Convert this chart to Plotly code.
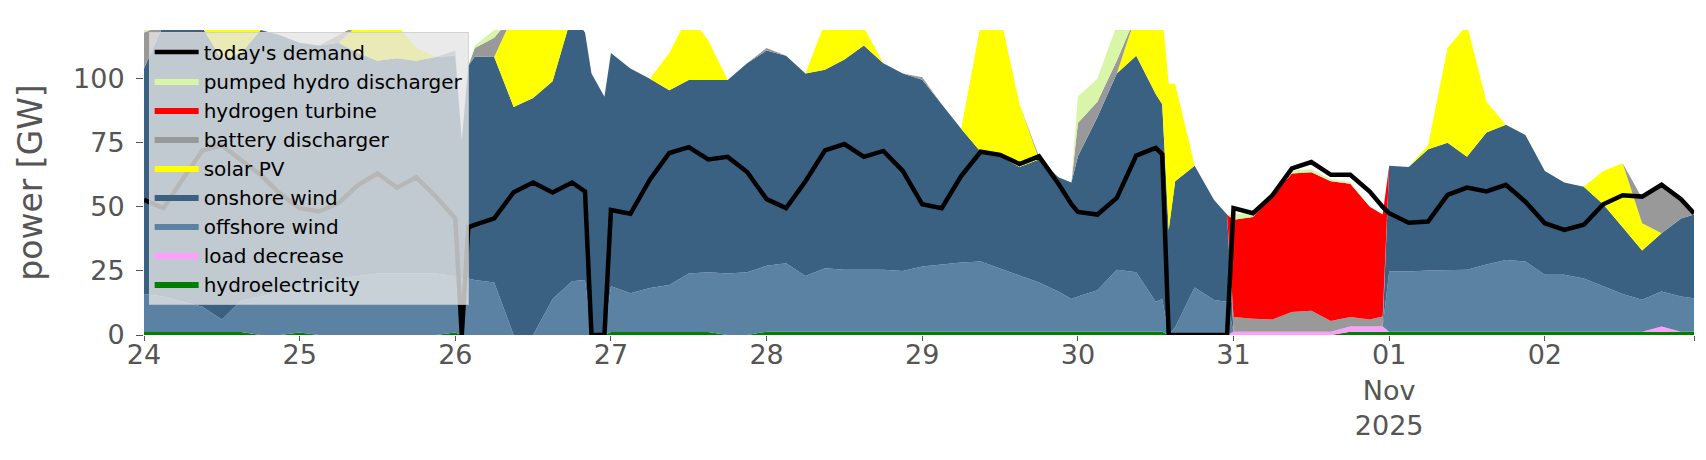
import pandas as pd
import plotly.graph_objects as go

# hours after 2025-10-24 00:00 (3-hourly, plus a few extra points at the sharp steps)
hours = [0, 3, 6, 9, 12, 15, 18, 21,
         24, 27, 30, 33, 36, 39, 42, 45,
         48, 49, 50, 51, 54, 57, 60, 63, 66, 68, 69, 71,
         72, 75, 78, 81, 84, 87, 90, 93,
         96, 99, 102, 105, 108, 111, 114, 117,
         120, 123, 126, 129, 132, 135, 138, 141, 143,
         144, 147, 150, 153, 156, 157, 158, 159, 162, 165, 167,
         168, 171, 174, 177, 180, 183, 186, 189, 191,
         192, 195, 198, 201, 204, 207, 210, 213,
         216, 219, 222, 225, 228, 231, 234, 237, 239]

# GW, stacked bottom -> top
hydroelectricity = [1.2, 1.2, 1.2, 1.2, 1.2, 1.2, 0, 0,
                    1.0, 0, 0, 0, 0, 0, 0, 0,
                    1.0, 0, 0, 0, 0, 0, 0, 0, 0, 0, 0, 0,
                    1.2, 1.2, 1.2, 1.2, 1.2, 1.2, 0, 0,
                    1.3, 1.3, 1.3, 1.3, 1.3, 1.3, 1.3, 1.3,
                    1.3, 1.3, 1.3, 1.3, 1.3, 1.3, 1.3, 1.3, 1.3,
                    1.3, 1.3, 1.3, 1.3, 1.3, 1.3, 0, 0, 0, 0, 0,
                    0, 0, 0, 0, 0, 0, 1.3, 1.3, 1.3,
                    1.3, 1.3, 1.3, 1.3, 1.3, 1.3, 1.3, 1.3,
                    1.3, 1.3, 1.3, 1.3, 1.3, 1.3, 1.3, 1.3, 1.3]
load_decrease = [0, 0, 0, 0, 0, 0, 0, 0,
                 0, 0, 0, 0, 0, 0, 0, 0,
                 0, 0, 0, 0, 0, 0, 0, 0, 0, 0, 0, 0,
                 0, 0, 0, 0, 0, 0, 0, 0,
                 0, 0, 0, 0, 0, 0, 0, 0,
                 0, 0, 0, 0, 0, 0, 0, 0, 0,
                 0, 0, 0, 0, 0, 0, 0, 0, 0, 0, 0,
                 1.3, 1.3, 1.3, 1.3, 1.3, 1.3, 2, 2, 2,
                 0, 0, 0, 0, 0, 0, 0, 0,
                 0, 0, 0, 0, 0, 0, 2, 0, 0]
offshore_wind = [14.8, 13.8, 11.8, 9.8, 4.8, 12.3, 15, 17,
                 18, 21, 22, 23, 24, 24, 24, 24,
                 22, 22, 22, 21.5, 20.5, 0, 0, 14, 21, 21.5, 0, 0,
                 17.8, 15.1, 17.1, 18.3, 22.8, 23.3, 24, 24.5,
                 25.7, 26.7, 21.7, 24.7, 24.2, 24.2, 24.2, 23.7,
                 25.4, 26.2, 27, 27.4, 24.7, 22.2, 19.2, 15.7, 12.7,
                 13.7, 16.2, 24.2, 23.2, 11.7, 12.7, 0, 3, 18.5, 13.7, 13,
                 0, 0, 0, 0, 0, 0, 0, 0, 0,
                 23.5, 23.5, 23.9, 24, 24.2, 26.2, 28, 27.4,
                 22.2, 22.2, 20.7, 17.7, 14.7, 12.5, 13.7, 13.7, 13]
onshore_wind = [88, 106, 109, 109, 101.5, 96.5, 104, 100,
                95, 92, 92, 87, 83, 84, 83, 84.5,
                86, 54, 83, 87.2, 88, 89, 92.5, 85, 104, 96.5, 102, 93,
                91, 87.7, 81.7, 76, 75.5, 75, 75.5, 81.5,
                84, 81, 79, 77.5, 82, 87.5, 80.5, 77,
                72.9, 62.5, 52.2, 42.8, 43.7, 42, 48, 44.5, 45.5,
                54.7, 67.5, 76.5, 84.5, 81, 76, 41, 57, 47.5, 39, 34,
                0, 0, 0, 0, 0, 0, 0, 0, 0,
                41.2, 40.7, 47.3, 49.7, 44, 51.5, 52.7, 49.3,
                40.5, 36, 35.8, 32, 26, 19.2, 22.7, 30.5, 32.7]
solar_pv = [0, 0, 0, 0, 17.5, 14, 0, 0,
            0, 0, 0, 11, 18, 13, 5, 0,
            0, 0, 0, 0, 0, 36, 32.5, 22, 0, 0, 0, 0,
            0, 0, 0, 14.5, 25.5, 15.5, 0, 0,
            0, 0, 0, 18.5, 17.5, 7, 0, 0,
            0, 0, 0, 49.5, 55.3, 24.5, 0, 0, 0,
            0, 0, 0, 16, 31, 35, 57, 38, 0, 0, 0,
            0, 0, 0, 0, 0, 0, 0, 0, 0,
            0, 0, 1.5, 37, 51.5, 12, 0, 0,
            0, 0, 0, 13, 25, 10.6, 0, 0, 0]
battery_discharger = [14, 0, 0, 0, 0, 0, 0, 0,
                      0, 0, 3, 0, 0, 0, 0, 0,
                      2, 0, 0, 3.3, 7.5, 0, 0, 0, 0, 0, 0, 0,
                      0, 0, 0, 0, 0, 0, 0, 0,
                      1, 0, 0, 0, 0, 0, 0, 0,
                      1, 0, 0, 0, 0, 0, 1, 0, 0,
                      13, 6, 5, 0, 0, 0, 0, 0, 0, 0, 0,
                      5.7, 5, 4.7, 7.7, 8.2, 4.2, 3.7, 2.7, 3.9,
                      0, 0, 0, 0, 0, 0, 0, 0,
                      0, 0, 0, 0, 0, 9.8, 18.9, 8, 1]
hydrogen_turbine = [0] * 64 + [38, 39.7, 48.5, 54, 54, 54.5, 52, 44, 39.8] + [0] * 17
pumped_hydro_discharger = [4, 0, 0, 0, 0, 0, 0, 0,
                           0, 0, 0, 0, 0, 0, 0, 0,
                           0, 0, 0, 1, 3, 0, 0, 0, 0, 0, 0, 0,
                           0, 0, 0, 0, 0, 0, 0, 0,
                           0, 0, 0, 0, 0, 0, 0, 0,
                           0, 0, 0, 0, 0, 0, 0, 0, 0,
                           10.4, 9, 14, 0, 0, 0, 0, 0, 0, 0, 0,
                           2, 1.8, 1.5, 1.2, 1.2, 0.8, 0.6, 0, 0,
                           0, 0, 0, 0, 0, 0, 0, 0,
                           0, 0, 0, 0, 0, 0, 0, 0, 0]
todays_demand = [52.7, 49.5, 61, 72, 74, 68.5, 62.5, 55,
                 49.5, 48.2, 51.5, 58.5, 63, 57.5, 61.5, 54,
                 45.5, 0, 42, 43, 45.5, 55.7, 59.5, 55.6, 59.5, 56, 0, 0,
                 48.8, 47.3, 60.6, 71, 73.3, 68.5, 69.5, 63.6,
                 53, 49.5, 60, 72, 74.5, 69.5, 71.8, 64,
                 51, 49.5, 62, 71.5, 70.3, 66.7, 69.7, 59, 51,
                 48, 47, 53.5, 70, 73, 70.5, 0, 0, 0, 0, 0,
                 49.5, 47.5, 54.5, 65, 67.5, 62.5, 62.5, 56, 50,
                 47.5, 43.8, 44.3, 54.7, 57.5, 56, 58.6, 52,
                 43.6, 41, 43, 51, 54.5, 54, 58.6, 53, 47.5]

day_labels = ["24", "25", "26", "27", "28", "29", "30", "31", "01<br>Nov<br>2025", "02"]

start = pd.Timestamp("2025-10-24")
time = start + pd.to_timedelta(hours, unit="h")

# stacking order bottom -> top: (name, values, colour, legend rank)
stack = [
    ("hydroelectricity", hydroelectricity, "#008000", 9),
    ("load decrease", load_decrease, "#ff9eff", 8),
    ("offshore wind", offshore_wind, "#5c82a3", 7),
    ("onshore wind", onshore_wind, "#3b6182", 6),
    ("solar PV", solar_pv, "#ffff00", 5),
    ("battery discharger", battery_discharger, "#999999", 4),
    ("hydrogen turbine", hydrogen_turbine, "#ff0000", 3),
    ("pumped hydro discharger", pumped_hydro_discharger, "#d8f5a8", 2),
]

fig = go.Figure()

for name, vals, col, rank in stack:
    fig.add_trace(go.Scatter(
        x=time, y=vals, name=name,
        mode="lines", stackgroup="one",
        line=dict(width=0, color=col),
        fillcolor=col,
        legendrank=rank,
    ))

# demand line on top of the stack
fig.add_trace(go.Scatter(
    x=time, y=todays_demand, name="today's demand",
    mode="lines", line=dict(color="black", width=4.5),
    legendrank=1,
))

tick_days = pd.date_range(start, periods=10, freq="D")
end = time[-1]

fig.update_layout(
    width=1706, height=460,
    margin=dict(l=136, r=20, t=22, b=133),
    plot_bgcolor="white",
    paper_bgcolor="white",
    font=dict(family="DejaVu Sans", color="#555555"),
    showlegend=True,
    legend=dict(
        x=0.003, y=0.995, xanchor="left", yanchor="top",
        bgcolor="rgba(229,229,229,0.8)",
        bordercolor="rgba(204,204,204,0.8)", borderwidth=1,
        font=dict(size=20, color="black", family="DejaVu Sans"),
        itemwidth=44,
        traceorder="normal",
    ),
)

fig.update_xaxes(
    range=[start, end],
    tickvals=list(tick_days) + [end],
    ticktext=day_labels + [""],
    tickfont=dict(size=27, color="#555555"),
    ticks="outside", ticklen=5, tickcolor="#555555",
    ticklabelstandoff=-9,
    showgrid=False, zeroline=False, showline=False,
)

fig.update_yaxes(
    range=[0, 119],
    tickvals=[0, 25, 50, 75, 100],
    tickfont=dict(size=27, color="#555555"),
    ticks="outside", ticklen=7, tickcolor="#555555",
    ticklabelstandoff=6,
    title=dict(text="power [GW]", font=dict(size=33, color="#555555"), standoff=20),
    showgrid=False, zeroline=False, showline=False,
)

fig.write_html("out.html")
